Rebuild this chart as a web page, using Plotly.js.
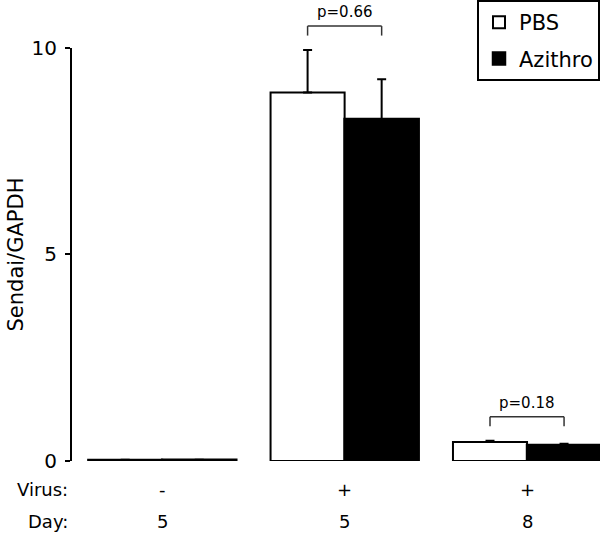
<!DOCTYPE html>
<html>
<head>
<meta charset="utf-8">
<script src="https://cdn.plot.ly/plotly-3.0.1.min.js"></script>
<style>
  html, body { margin: 0; padding: 0; background: #fff; }
  #plot { width: 600px; height: 534px; }
</style>
</head>
<body>
<div id="plot"></div>
<script>
// groups along the x axis
const groups = ['Virus - / Day 5', 'Virus + / Day 5', 'Virus + / Day 8'];
const virus = ['-', '+', '+'];
const day = ['5', '5', '8'];

// Sendai/GAPDH
const pbs = [0.03, 8.92, 0.46];
const pbsErr = [0, 1.03, 0.03];
const azithro = [0.03, 8.28, 0.39];
const azithroErr = [0, 0.96, 0.03];

// p-values between PBS and Azithro (null = none shown)
const pvals = [null, 'p=0.66', 'p=0.18'];

const yTicks = [0, 5, 10];
const yMax = 11.04;
const font = 'DejaVu Sans, Verdana, sans-serif';
const bargap = 0.188;
const half = (1 - bargap) / 4; // offset of each bar's centre from the group centre

const traces = [
    {
        x: groups, y: pbs, name: 'PBS', type: 'bar', legendgroup: 'pbs',
        marker: { color: '#ffffff', line: { color: '#000', width: 2 } },
        error_y: { type: 'data', symmetric: false, array: pbsErr, arrayminus: pbsErr.map(() => 0),
                   color: '#000', thickness: 2, width: 4.5 }
    },
    {
        x: groups, y: azithro, name: 'Azithro', type: 'bar', legendgroup: 'azithro',
        marker: { color: '#000000', line: { color: '#000', width: 2.5 } },
        error_y: { type: 'data', symmetric: false, array: azithroErr, arrayminus: azithroErr.map(() => 0),
                   color: '#000', thickness: 2, width: 4.5 }
    }
];

const shapes = [
    // y axis line, from 0 up to 10 only
    { type: 'line', xref: 'paper', yref: 'paper', x0: 0, x1: 0, y0: 0, y1: 10 / yMax,
      line: { color: '#000', width: 2 } }
];
const rowFont = { family: font, size: 18, color: '#000' };
const annotations = [
    { text: 'Sendai/GAPDH', xref: 'paper', yref: 'y', x: 0, y: 5, xanchor: 'center', yanchor: 'middle',
      xshift: -55, textangle: -90, showarrow: false, font: { family: font, size: 21, color: '#000' } },
    { text: 'Virus:', xref: 'paper', yref: 'paper', x: 0, y: 0, xanchor: 'right', yanchor: 'middle',
      xshift: -1, yshift: -28, showarrow: false, font: rowFont },
    { text: 'Day:', xref: 'paper', yref: 'paper', x: 0, y: 0, xanchor: 'right', yanchor: 'middle',
      xshift: -1, yshift: -60, showarrow: false, font: rowFont }
];

groups.forEach((g, i) => {
    annotations.push({ text: virus[i], x: i, xref: 'x', yref: 'paper', y: 0, yanchor: 'middle', yshift: -28,
                       showarrow: false, font: rowFont });
    annotations.push({ text: day[i], x: i, xref: 'x', yref: 'paper', y: 0, yanchor: 'middle', yshift: -60,
                       showarrow: false, font: rowFont });
    if (pvals[i]) {
        const top = Math.max(pbs[i] + pbsErr[i], azithro[i] + azithroErr[i]);
        const legLow = top + 0.35, legHigh = top + 0.58;
        const ln = { color: '#333', width: 1.5 };
        shapes.push({ type: 'line', xref: 'x', yref: 'y', x0: i - half, x1: i + half, y0: legHigh, y1: legHigh, line: ln });
        shapes.push({ type: 'line', xref: 'x', yref: 'y', x0: i - half, x1: i - half, y0: legLow, y1: legHigh, line: ln });
        shapes.push({ type: 'line', xref: 'x', yref: 'y', x0: i + half, x1: i + half, y0: legLow, y1: legHigh, line: ln });
        annotations.push({ text: pvals[i], x: i, xref: 'x', y: top + 0.92, yref: 'y', yanchor: 'middle',
                           showarrow: false, font: { family: font, size: 15, color: '#000' } });
    }
});

Plotly.newPlot('plot', traces, {
    width: 600,
    height: 534,
    margin: { l: 71, r: 0, t: 5, b: 73 },
    barmode: 'group',
    bargap: bargap,
    bargroupgap: 0,
    paper_bgcolor: '#fff',
    plot_bgcolor: '#fff',
    font: { family: font, color: '#000' },
    xaxis: {
        type: 'category',
        range: [-0.5, 2.4],
        showline: false,
        showgrid: false,
        zeroline: false,
        ticks: '',
        showticklabels: false
    },
    yaxis: {
        range: [0, yMax],
        tickvals: yTicks,
        ticks: 'outside',
        ticklen: 5,
        tickwidth: 2,
        tickcolor: '#000',
        ticklabelstandoff: 4,
        tickfont: { family: font, size: 20, color: '#000' },
        showline: false,
        showgrid: false,
        zeroline: false
    },
    legend: {
        x: 1, xanchor: 'right',
        y: 1 + 5 / 456, yanchor: 'top',
        bgcolor: '#fff',
        bordercolor: '#000',
        borderwidth: 2,
        font: { family: font, size: 21, color: '#000' },
        traceorder: 'grouped',
        tracegroupgap: 6
    },
    showlegend: true,
    shapes: shapes,
    annotations: annotations
}, { displayModeBar: false, staticPlot: true });
</script>
</body>
</html>
